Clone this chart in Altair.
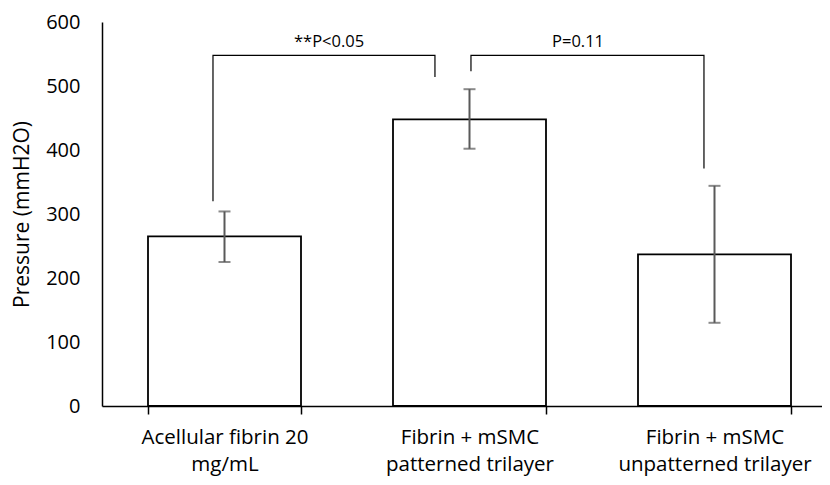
import altair as alt
import pandas as pd

categories = ["Acellular fibrin 20\nmg/mL", "Fibrin + mSMC\npatterned trilayer", "Fibrin + mSMC\nunpatterned trilayer"]
means = [265, 448, 237]
err_lo = [225, 402, 130]
err_hi = [304, 495, 344]

bracket_id = ["a", "a", "a", "a", "b", "b", "b", "b"]
bracket_order = [0, 1, 2, 3, 0, 1, 2, 3]
bracket_x = [0.453, 0.453, 1.359, 1.359, 1.506, 1.506, 2.457, 2.457]
bracket_y = [320, 548, 548, 514, 523, 548, 548, 371]

label_text = ["**P<0.05", "P=0.11"]
label_x = [0.927, 1.943]
label_y = [568, 568]

FONT = "Open Sans"
W = 720          # plot width in px
STEP = 245.0     # px per category

df = pd.DataFrame({"cat": categories, "mean": means, "lo": err_lo, "hi": err_hi})
br = pd.DataFrame({"id": bracket_id, "o": bracket_order, "x": bracket_x, "y": bracket_y})
lab = pd.DataFrame({"t": label_text, "x": label_x, "y": label_y})

p_in = 0.3755
p_out = (W / STEP - (3 - p_in)) / 2
align = (STEP * p_in / 2) / (W - STEP * (3 - p_in))
xband = alt.Scale(domain=categories, paddingInner=p_in, paddingOuter=p_out, align=align)
xq = alt.Scale(domain=[0, W / STEP], nice=False, zero=False)
yscale = alt.Scale(domain=[0, 600])

yaxis = alt.Axis(values=[0, 100, 200, 300, 400, 500, 600], grid=False, ticks=False,
                 domainColor="black", domainWidth=1.5, labelPadding=22, labelFontSize=20,
                 labelColor="black", labelFont=FONT, title="Pressure (mmH2O)",
                 titleFont=FONT, titleFontSize=21, titleFontWeight="normal", titleColor="black",
                 titlePadding=13)
xaxis = alt.Axis(title=None, ticks=True, tickBand="extent", tickSize=8, tickColor="black",
                 tickWidth=1.5, domainColor="black", domainWidth=1.5, labelAngle=0,
                 labelFontSize=20.5, labelFont=FONT, labelColor="black", labelPadding=13,
                 labelLineHeight=27, labelLimit=400,
                 labelExpr="split(datum.label, '\\n')")

X = alt.X("cat:N", scale=xband, axis=xaxis, sort=categories, title=None)

def Y(field):
    return alt.Y(field, scale=yscale, axis=yaxis, title="Pressure (mmH2O)")

bars = alt.Chart(df).mark_bar(fill="white", stroke="black", strokeWidth=1.8).encode(
    x=X, y=Y("mean:Q"),
)
rules = alt.Chart(df).mark_rule(color="#595959", strokeWidth=2).encode(
    x=X, y=Y("lo:Q"), y2="hi:Q",
)
cap_lo = alt.Chart(df).mark_tick(color="#595959", size=12, thickness=2).encode(
    x=X, y=Y("lo:Q"),
)
cap_hi = alt.Chart(df).mark_tick(color="#595959", size=12, thickness=2).encode(
    x=X, y=Y("hi:Q"),
)
brackets = alt.Chart(br).mark_line(color="black", strokeWidth=1.2).encode(
    x=alt.X("x:Q", scale=xq, axis=None),
    y=Y("y:Q"),
    detail="id:N",
    order="o:Q",
)
texts = alt.Chart(lab).mark_text(font=FONT, fontSize=16.5, color="black", baseline="middle").encode(
    x=alt.X("x:Q", scale=xq, axis=None),
    y=Y("y:Q"),
    text="t:N",
)

base = alt.layer(bars, rules, cap_lo, cap_hi)
ann = alt.layer(brackets, texts)

chart = alt.layer(base, ann).resolve_scale(x="independent").properties(
    width=W, height=384,
    background="white",
    autosize=alt.AutoSizeParams(type="none"),
    padding={"left": 94, "top": 14, "right": 0, "bottom": 71},
).configure_view(stroke=None)

chart.save("out.html", embed_options={"renderer": "svg", "actions": False})
